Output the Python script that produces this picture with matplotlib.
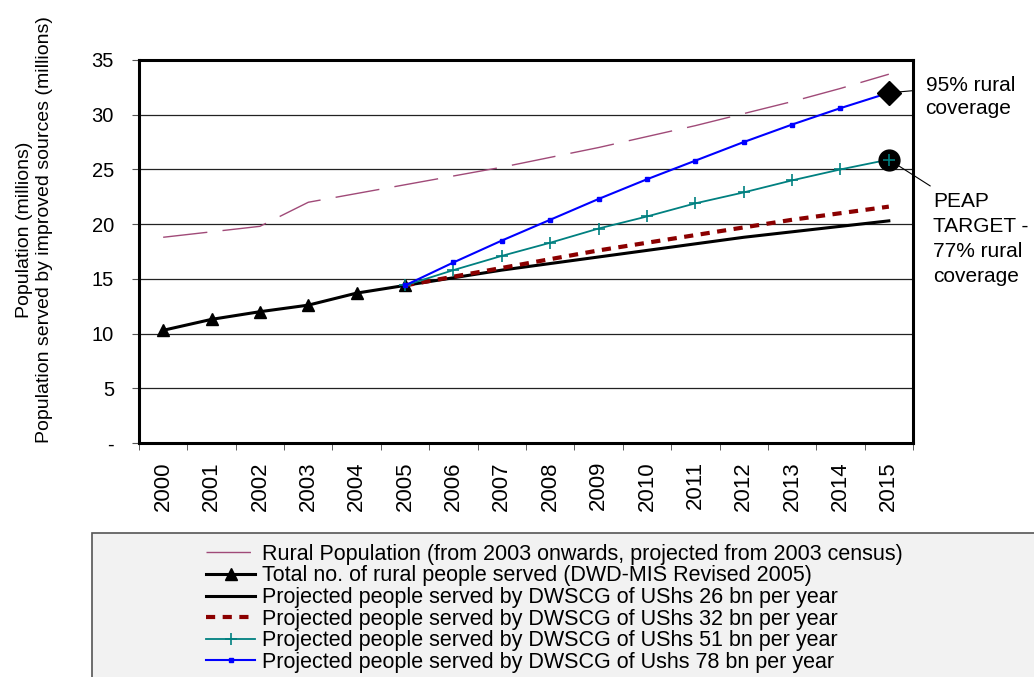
import matplotlib.pyplot as plt
import numpy as np
from matplotlib.patches import Rectangle

years = [str(y) for y in range(2000, 2016)]
rural_pop = [18.8, 19.3, 19.8, 22.0, 22.8, 23.6, 24.4, 25.2, 26.1, 27.0, 28.0, 29.0, 30.1, 31.2, 32.4, 33.7]
served = [10.3, 11.3, 12.0, 12.6, 13.7, 14.4]
proj_26 = [14.4, 15.1, 15.8, 16.4, 17.0, 17.6, 18.2, 18.8, 19.3, 19.8, 20.3]
proj_32 = [14.4, 15.2, 16.0, 16.8, 17.6, 18.3, 19.0, 19.7, 20.4, 21.0, 21.6]
proj_51 = [14.4, 15.8, 17.1, 18.3, 19.6, 20.7, 21.9, 22.9, 24.0, 25.0, 25.9]
proj_78 = [14.4, 16.5, 18.5, 20.4, 22.3, 24.1, 25.8, 27.5, 29.1, 30.6, 32.0]
target_95 = 32.0
target_77 = 25.9

plt.rcParams['font.family'] = ['Liberation Sans', 'DejaVu Sans']

fig = plt.figure(figsize=(10.34, 6.77), dpi=100)
ax = fig.add_axes([0.1344, 0.3456, 0.7486, 0.5658])

x = np.arange(len(years))
xp = x[5:]

l_rural, = ax.plot(x, rural_pop, color='#a04a78', lw=1.0, dashes=(32, 11))
l_served, = ax.plot(x[:6], served, color='black', lw=2.2, marker='^', ms=9)
l_26, = ax.plot(xp, proj_26, color='black', lw=2.2)
l_32, = ax.plot(xp, proj_32, color='#8b0000', lw=3, ls=(0, (2.2, 1.8)))
l_51, = ax.plot(xp, proj_51, color='#008080', lw=1.3, marker='+', ms=8, mew=1.2)
l_78, = ax.plot(xp, proj_78, color='blue', lw=1.5, marker='s', ms=2.5)

ax.plot(x[-1], target_95, marker='D', color='black', ms=12, zorder=5)
ax.plot(x[-1], target_77, marker='o', color='black', ms=15, zorder=5)
ax.plot(x[-1], target_77, marker='+', color='#008080', ms=8, mew=1.2, zorder=6)

ax.annotate('95% rural\ncoverage', xy=(x[-1], target_95), xytext=(15.76, 31.6),
            fontsize=15, va='center', ha='left', linespacing=1.3, annotation_clip=False,
            arrowprops=dict(arrowstyle='-', color='black', lw=0.8, shrinkA=6, shrinkB=0,
                            relpos=(0.0, 0.68)))
ax.annotate('PEAP\nTARGET -\n77% rural\ncoverage', xy=(x[-1], target_77), xytext=(15.91, 18.6),
            fontsize=15, va='center', ha='left', linespacing=1.4, annotation_clip=False,
            arrowprops=dict(arrowstyle='-', color='black', lw=0.8, shrinkA=5, shrinkB=0,
                            relpos=(0.08, 1.0)))

ax.set_xlim(-0.5, len(years) - 0.5)
ax.set_ylim(0, 35)
ax.set_yticks(range(0, 36, 5))
ax.set_yticklabels(['-'] + [str(v) for v in range(5, 36, 5)], fontsize=14.5)
ax.yaxis.grid(True, color='#222222', lw=0.9)
ax.set_axisbelow(True)

ax.set_xticks(x)
ax.set_xticklabels(years, rotation=90, fontsize=16)
ax.set_xticks(np.arange(-0.5, len(years)), minor=True)
ax.tick_params(axis='x', which='major', length=0, pad=13)
ax.tick_params(axis='x', which='minor', length=5, color='#444444')
ax.tick_params(axis='y', length=5, color='#555555', pad=13)

for s in ax.spines.values():
    s.set_linewidth(2.2)

ax.set_ylabel('Population (millions)\nPopulation served by improved sources (millions)',
              fontsize=14, linespacing=1.2)
ax.yaxis.set_label_coords(-0.111, 0.556)

fig.patches.append(Rectangle((92 / 1034, -0.05), 1.0, 0.05 + (677 - 533) / 677,
                             transform=fig.transFigure, facecolor='#f2f2f2',
                             edgecolor='#555555', lw=1.2, zorder=0))

fig.legend([l_rural, l_served, l_26, l_32, l_51, l_78],
           ['Rural Population (from 2003 onwards, projected from 2003 census)',
            'Total no. of rural people served (DWD-MIS Revised 2005)',
            'Projected people served by DWSCG of UShs 26 bn per year',
            'Projected people served by DWSCG of UShs 32 bn per year',
            'Projected people served by DWSCG of UShs 51 bn per year',
            'Projected people served by DWSCG of Ushs 78 bn per year'],
           loc='upper left', bbox_to_anchor=(195 / 1034, (677 - 533) / 677),
           frameon=False, prop={'size': 15.5},
           handlelength=2.3, handletextpad=0.33, labelspacing=0.03, borderpad=0)

fig.savefig('out.png', dpi=100)
